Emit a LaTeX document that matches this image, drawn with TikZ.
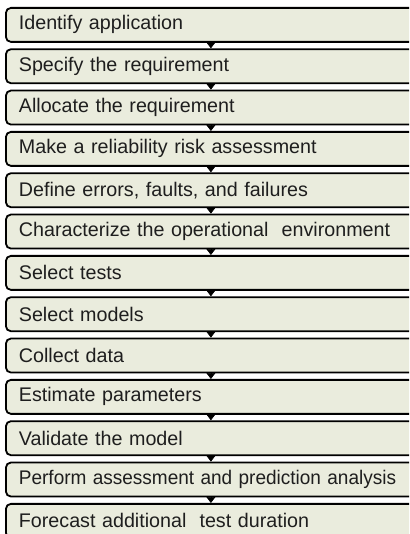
\documentclass[tikz,border=0pt]{standalone}
\usepackage{fontspec}
\setmainfont{Liberation Sans}
\usetikzlibrary{arrows.meta}
\definecolor{boxfill}{HTML}{EAECDD}
\definecolor{txt}{HTML}{1E1E1E}
\begin{document}
\begin{tikzpicture}[x=1pt,y=-1pt,
  stepbox/.style={draw=black,line width=1.8pt,rounded corners=5pt,fill=boxfill,
    minimum width=410pt,minimum height=34pt,inner xsep=13pt,inner ysep=0pt,
    text width=384pt,align=left,anchor=north west,text=txt,
    font=\fontsize{19.7}{22}\selectfont},
  flow/.style={line width=0.6pt,-{Triangle[width=9pt,length=6pt]},shorten <=0.5pt}]
\useasboundingbox (0,0) rectangle (409,534);
\clip (0,0) rectangle (409,534);
\def\p{41.33}
\node[stepbox] (b1) at (5,7) {Identify application};
\node[stepbox] (b2) at (5,7+\p) {Specify the requirement};
\node[stepbox] (b3) at (5,7+2*\p) {Allocate the requirement};
\node[stepbox] (b4) at (5,7+3*\p) {Make a reliability risk assessment};
\node[stepbox] (b5) at (5,7+4*\p) {Define errors, faults, and failures};
\node[stepbox] (b6) at (5,7+5*\p) {\mbox{Characterize the operational\ \ environment}};
\node[stepbox] (b7) at (5,7+6*\p) {Select tests};
\node[stepbox] (b8) at (5,7+7*\p) {Select models};
\node[stepbox] (b9) at (5,7+8*\p) {Collect data};
\node[stepbox] (b10) at (5,7+9*\p) {Estimate parameters};
\node[stepbox] (b11) at (5,7+10*\p) {Validate the model};
\node[stepbox] (b12) at (5,7+11*\p) {\scalebox{0.965}[1]{Perform assessment and prediction analysis}};
\node[stepbox] (b13) at (5,7+12*\p) {Forecast additional\ \ test duration};
\foreach \a/\b in {b1/b2,b2/b3,b3/b4,b4/b5,b5/b6,b6/b7,b7/b8,b8/b9,b9/b10,b10/b11,b11/b12,b12/b13}
  \draw[flow] (\a.south) -- (\b.north);
\end{tikzpicture}
\end{document}
